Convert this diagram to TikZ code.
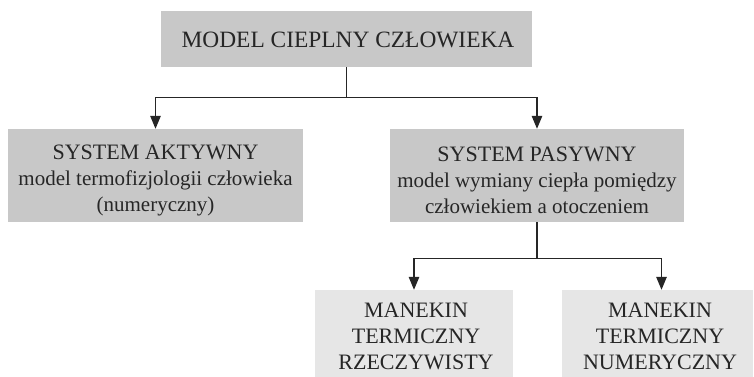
\documentclass[tikz,border=0pt]{standalone}
\usepackage{fontspec}
\setmainfont{Liberation Serif}
\usetikzlibrary{arrows.meta}
\definecolor{boxdark}{HTML}{C8C8C8}
\definecolor{boxlight}{HTML}{E6E6E6}
\newcommand{\lc}{\fontsize{21}{26}\selectfont}
\tikzset{
  darkbox/.style={fill=boxdark, draw=none, inner sep=0pt},
  lightbox/.style={fill=boxlight, draw=none, inner sep=0pt},
  txt/.style={inner sep=0pt, align=center, text=black!85,
    font=\fontsize{22}{26}\selectfont},
  conn/.style={line width=1.3pt, draw=black!85},
  arr/.style={conn, -{Triangle[length=13pt,width=10.5pt]}}
}
\begin{document}
\begin{tikzpicture}[x=1pt,y=-1pt]
\useasboundingbox (0,0) rectangle (754,377);
% boxes
\node[darkbox, minimum width=371pt, minimum height=56pt] (top) at (346.5,39) {};
\node[darkbox, minimum width=295pt, minimum height=93pt] (act) at (155.5,175.5) {};
\node[darkbox, minimum width=294pt, minimum height=93pt] (pas) at (537,175.5) {};
\node[lightbox, minimum width=198pt, minimum height=87pt] (real) at (414,333.5) {};
\node[lightbox, minimum width=191pt, minimum height=87pt] (num) at (657.5,333.5) {};
% texts
\node[txt, font=\fontsize{23.4}{26}\selectfont] (toptxt) at (348,40) {MODEL CIEPLNY CZŁOWIEKA};
\node[txt] (acttxt) at (155.5,180) {SYSTEM AKTYWNY\\{\lc model termofizjologii człowieka}\\{\lc (numeryczny)}};
\node[txt] (pastxt) at (537,180) {SYSTEM PASYWNY\\{\lc model wymiany ciepła pomiędzy}\\{\lc człowiekiem a otoczeniem}};
\node[txt] (realtxt) at (416,336.5) {MANEKIN\\TERMICZNY\\RZECZYWISTY};
\node[txt] (numtxt) at (660,336.5) {MANEKIN\\TERMICZNY\\NUMERYCZNY};
% connectors
\draw[conn] (top.south) -- ++(0,30) coordinate (j1);
\draw[arr] (j1) -| (act.north);
\draw[arr] (j1) -| (pas.north);
\draw[conn] (pas.south) -- ++(0,36) coordinate (j2);
\draw[arr] (j2) -| (real.north);
\coordinate (numtop) at ([xshift=4pt]num.north);
\draw[arr] (j2) -| (numtop);
\end{tikzpicture}
\end{document}
